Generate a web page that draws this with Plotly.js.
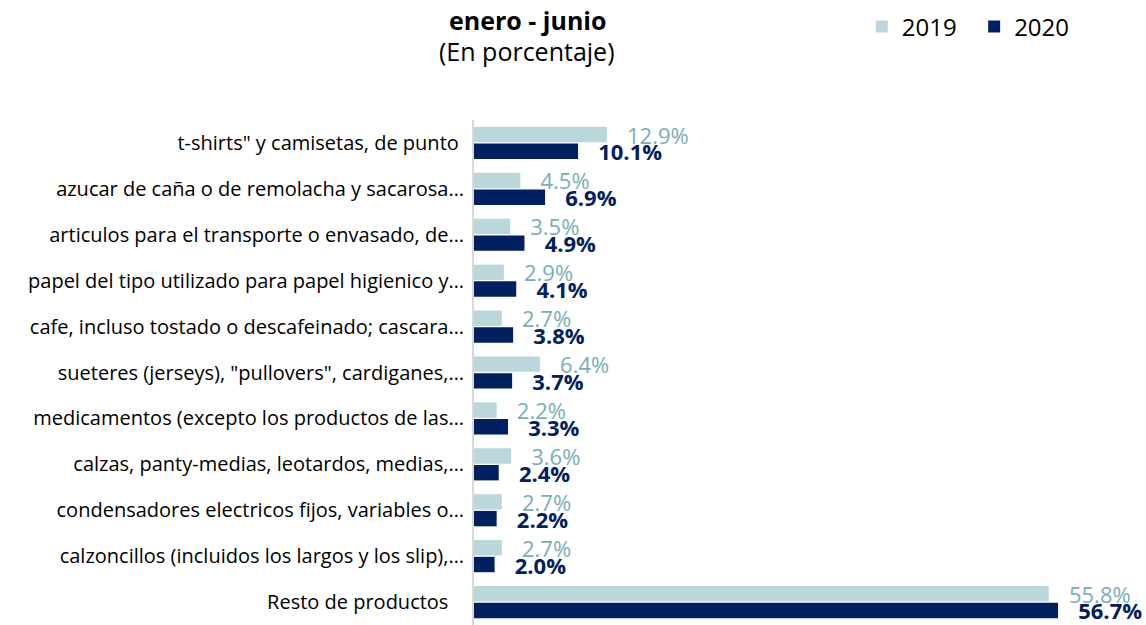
<!DOCTYPE html>
<html><head><meta charset="utf-8">
<script src="https://cdn.plot.ly/plotly-3.0.1.min.js"></script>
<style>html,body{margin:0;padding:0;background:#fff}#chart{width:1146px;height:625px}</style>
</head><body><div id="chart"></div>
<script>
const categories = [
  't-shirts" y camisetas, de punto\u00a0',
  'azucar de caña o de remolacha y sacarosa…',
  'articulos para el transporte o envasado, de…',
  'papel del tipo utilizado para papel higienico y…',
  'cafe, incluso tostado o descafeinado; cascara…',
  'sueteres (jerseys), "pullovers", cardiganes,…',
  'medicamentos (excepto los productos de las…',
  'calzas, panty-medias, leotardos, medias,…',
  'condensadores electricos fijos, variables o…',
  'calzoncillos (incluidos los largos y los slip),…',
  'Resto de productos\u00a0\u00a0\u00a0'
];
const values2019 = [12.9, 4.5, 3.5, 2.9, 2.7, 6.4, 2.2, 3.6, 2.7, 2.7, 55.8];
const values2020 = [10.1, 6.9, 4.9, 4.1, 3.8, 3.7, 3.3, 2.4, 2.2, 2.0, 56.7];
const seriesNames = ['2019', '2020'];
const titleLines = ['enero - junio', '(En porcentaje)'];

const FONT = '"Open Sans", sans-serif';
const pad = '\u00a0\u00a0\u00a0';

const traces = [
  {
    type: 'bar', orientation: 'h', name: seriesNames[0] + '\u00a0\u00a0',
    y: categories, x: values2019,
    marker: {color: '#BAD8DB'},
    text: values2019.map(v => pad + v.toFixed(1) + '%'),
    textposition: 'outside', constraintext: 'none', cliponaxis: false,
    outsidetextfont: {family: FONT, size: 22, color: '#78AFB5'},
    hoverinfo: 'none'
  },
  {
    type: 'bar', orientation: 'h', name: seriesNames[1],
    y: categories, x: values2020,
    marker: {color: '#002060'},
    text: values2020.map(v => pad + '<b>' + v.toFixed(1) + '%</b>'),
    textposition: 'outside', constraintext: 'none', cliponaxis: false,
    outsidetextfont: {family: FONT, size: 22, color: '#002060'},
    hoverinfo: 'none'
  }
];

const layout = {
  width: 1146, height: 625,
  margin: {l: 474, r: 66, t: 120, b: 0},
  paper_bgcolor: '#fff', plot_bgcolor: '#fff',
  font: {family: FONT, color: '#000'},
  annotations: [
    {text: '<b>' + titleLines[0] + '</b>', xref: 'paper', yref: 'paper',
     x: 0.0875, y: 1.198, xanchor: 'center', yanchor: 'middle', showarrow: false,
     font: {family: FONT, size: 25, color: '#000'}},
    {text: titleLines[1], xref: 'paper', yref: 'paper',
     x: 0.0875, y: 1.136, xanchor: 'center', yanchor: 'middle', showarrow: false,
     font: {family: FONT, size: 25, color: '#000'}}
  ],
  barmode: 'group', bargap: 0.27, bargroupgap: 0.08,
  showlegend: true,
  legend: {
    orientation: 'h', x: 0.752, xref: 'container', xanchor: 'left',
    y: 0.957, yref: 'container', yanchor: 'middle',
    font: {family: FONT, size: 24, color: '#000'},
    itemwidth: 30, traceorder: 'normal'
  },
  xaxis: {
    range: [0, 58.83], showticklabels: false, showgrid: false,
    zeroline: false, showline: false, fixedrange: true
  },
  yaxis: {
    autorange: 'reversed', showline: true, linecolor: '#D9D9D9', linewidth: 2,
    ticks: '', showgrid: false, zeroline: false,
    tickfont: {family: FONT, size: 20, color: '#000'},
    ticklabelstandoff: 4
  }
};

Plotly.newPlot('chart', traces, layout, {displayModeBar: false, staticPlot: true});
</script>
</body></html>
